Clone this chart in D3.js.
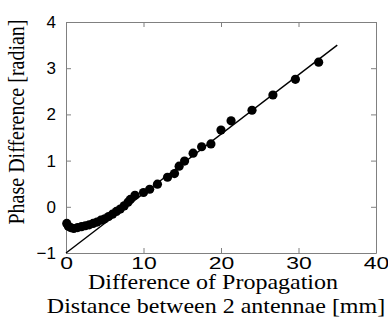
<!DOCTYPE html>
<meta charset="utf-8">
<script src="https://d3js.org/d3.v7.min.js"></script>
<style>
  body { margin: 0; background: #fff; }
  .tick text { font-family: "Liberation Sans", Arial, sans-serif; font-size: 17px; fill: #000; }
  .title { font-family: "Liberation Serif", "Times New Roman", serif; font-size: 20px; fill: #000; }
</style>
<div id="chart"></div>
<script>
// measured points: path difference [mm] and phase difference [radian]
const distance = [0.1, 0.3, 0.6, 1.0, 1.5, 2.0, 2.5, 3.0, 3.5, 4.0, 4.5, 5.0, 5.5, 6.0, 6.5, 7.0, 7.5, 8.0, 8.3, 8.9,
                  10.0, 10.8, 11.8, 13.1, 14.0, 14.6, 15.3, 16.4, 17.5, 18.7, 20.0, 21.3, 24.0, 26.7, 29.6, 32.6];
const phase = [-0.36, -0.42, -0.45, -0.47, -0.45, -0.43, -0.41, -0.39, -0.36, -0.33, -0.29, -0.26, -0.21, -0.16, -0.10, -0.05, 0.02, 0.10, 0.16, 0.25,
               0.31, 0.38, 0.49, 0.64, 0.72, 0.88, 0.99, 1.16, 1.30, 1.36, 1.66, 1.86, 2.09, 2.42, 2.76, 3.13];
// fitted line end points
const fitX = [0, 35];
const fitY = [-1, 3.5];
const xTicks = [0, 10, 20, 30, 40];
const yTicks = [-1, 0, 1, 2, 3, 4];

const margin = {top: 22, right: 12, bottom: 69, left: 66},
  width = 388 - margin.left - margin.right,
  height = 322 - margin.top - margin.bottom;

const svg = d3.select("#chart").append("svg")
    .attr("width", 388).attr("height", 322)
  .append("g")
    .attr("transform", `translate(${margin.left},${margin.top})`);

const x = d3.scaleLinear().domain([0, 40]).range([0, width]);
const y = d3.scaleLinear().domain([-1, 4]).range([height, 0]);

// frame with inward ticks on all sides
function styleAxis(g) {
  g.select(".domain").attr("stroke", "#808080");
  g.selectAll(".tick line").attr("stroke", "#808080");
}
svg.append("g").attr("transform", `translate(0,${height})`)
  .call(d3.axisBottom(x).tickValues(xTicks).tickSizeInner(-5).tickSizeOuter(0).tickPadding(4))
  .call(styleAxis)
  .selectAll(".tick text").attr("transform", "scale(1.35,1)");
svg.append("g")
  .call(d3.axisLeft(y).tickValues(yTicks).tickSizeInner(-5).tickSizeOuter(0).tickPadding(10).tickFormat(d3.format("d")))
  .call(styleAxis);
svg.append("g")
  .call(d3.axisTop(x).tickValues(xTicks).tickSizeInner(-5).tickSizeOuter(0).tickFormat(""))
  .call(styleAxis);
svg.append("g").attr("transform", `translate(${width},0)`)
  .call(d3.axisRight(y).tickValues(yTicks).tickSizeInner(-5).tickSizeOuter(0).tickFormat(""))
  .call(styleAxis);

// fit line
svg.append("line")
  .attr("x1", x(fitX[0])).attr("y1", y(fitY[0]))
  .attr("x2", x(fitX[1])).attr("y2", y(fitY[1]))
  .attr("stroke", "#000").attr("stroke-width", 1.4);

// points
svg.selectAll("circle")
  .data(distance.map((d, i) => ({x: d, y: phase[i]})))
  .join("circle")
    .attr("cx", d => x(d.x))
    .attr("cy", d => y(d.y))
    .attr("r", 4.6)
    .attr("fill", "#000");

// titles (the original is stretched horizontally)
svg.append("text").attr("class", "title")
  .attr("transform", `translate(${147},${height + 36}) scale(1.2,1)`)
  .attr("text-anchor", "middle")
  .text("Difference of Propagation");
svg.append("text").attr("class", "title")
  .attr("transform", `translate(${150},${height + 60}) scale(1.2,1)`)
  .attr("text-anchor", "middle")
  .text("Distance between 2 antennae [mm]");
svg.append("text").attr("class", "title")
  .attr("transform", `translate(${-42},${100}) scale(1.15,1) rotate(-90)`)
  .attr("text-anchor", "middle")
  .text("Phase Difference [radian]");
</script>
